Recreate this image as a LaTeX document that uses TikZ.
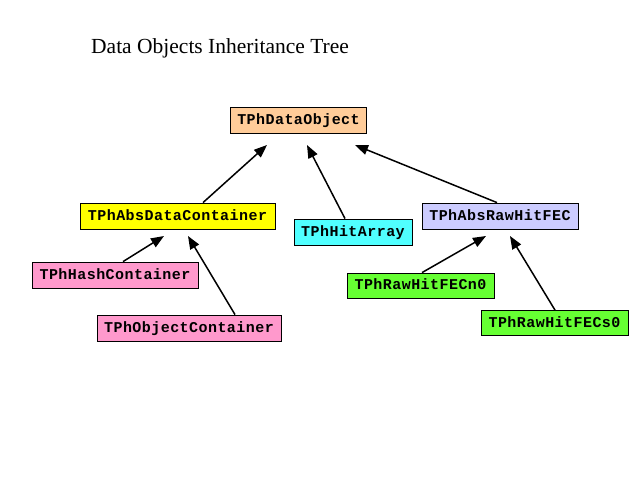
\documentclass[tikz,border=0pt]{standalone}
\usepackage{fontspec}
\setmainfont{Liberation Serif}
\newfontfamily\boxfont[LetterSpace=3]{Liberation Mono Bold}
\usetikzlibrary{arrows.meta,calc}
\definecolor{cpeach}{RGB}{255,204,153}
\definecolor{cyellow}{RGB}{255,255,0}
\definecolor{ccyan}{RGB}{80,255,255}
\definecolor{clav}{RGB}{204,204,255}
\definecolor{cpink}{RGB}{255,153,204}
\definecolor{cgreen}{RGB}{102,255,51}
\begin{document}
\begin{tikzpicture}[x=1pt,y=-1pt,
  cls/.style={draw=black,line width=0.8pt,inner sep=0pt,minimum height=26pt,font=\boxfont\fontsize{15}{16}\selectfont,text height=9pt,text depth=1pt},
  inh/.style={line width=1.5pt,-{Triangle[length=13pt,width=10pt]}}]
\useasboundingbox[fill=white] (0,0) rectangle (640,480);
\node[font=\fontsize{21.5}{24}\selectfont,anchor=base west,inner sep=0pt] (title) at (91,53) {Data Objects Inheritance Tree};
\node[cls,fill=cpeach,minimum width=136pt] (do) at (298.5,120) {TPhDataObject};
\node[cls,fill=cyellow,minimum width=195pt] (adc) at (177.5,216) {TPhAbsDataContainer};
\node[cls,fill=ccyan,minimum width=118pt] (ha) at (353,232) {TPhHitArray};
\node[cls,fill=clav,minimum width=156pt] (arh) at (500,216) {TPhAbsRawHitFEC};
\node[cls,fill=cpink,minimum width=166pt] (hc) at (115,275) {TPhHashContainer};
\node[cls,fill=cpink,minimum width=184pt] (oc) at (189,328) {TPhObjectContainer};
\node[cls,fill=cgreen,minimum width=147pt,minimum height=25pt] (n0) at (420.5,285.5) {TPhRawHitFECn0};
\node[cls,fill=cgreen,minimum width=147pt,minimum height=25pt] (s0) at (554.5,323) {TPhRawHitFECs0};
\coordinate (t1) at (267,145);
\coordinate (t2) at (307,145);
\coordinate (t3) at (355,145);
\coordinate (t4) at (164,236);
\coordinate (t5) at (188,236);
\coordinate (t6) at (486,236);
\coordinate (t7) at (510,236);
\draw[inh] ($(adc.north)+(25.5,0)$) -- (t1);
\draw[inh] ($(ha.north)+(-8,0)$) -- (t2);
\draw[inh] ($(arh.north)+(-3,0)$) -- (t3);
\draw[inh] ($(hc.north)+(8,0)$) -- (t4);
\draw[inh] ($(oc.north)+(46,0)$) -- (t5);
\draw[inh] ($(n0.north)+(1.5,0)$) -- (t6);
\draw[inh] ($(s0.north)+(0.5,0)$) -- (t7);
\end{tikzpicture}
\end{document}
